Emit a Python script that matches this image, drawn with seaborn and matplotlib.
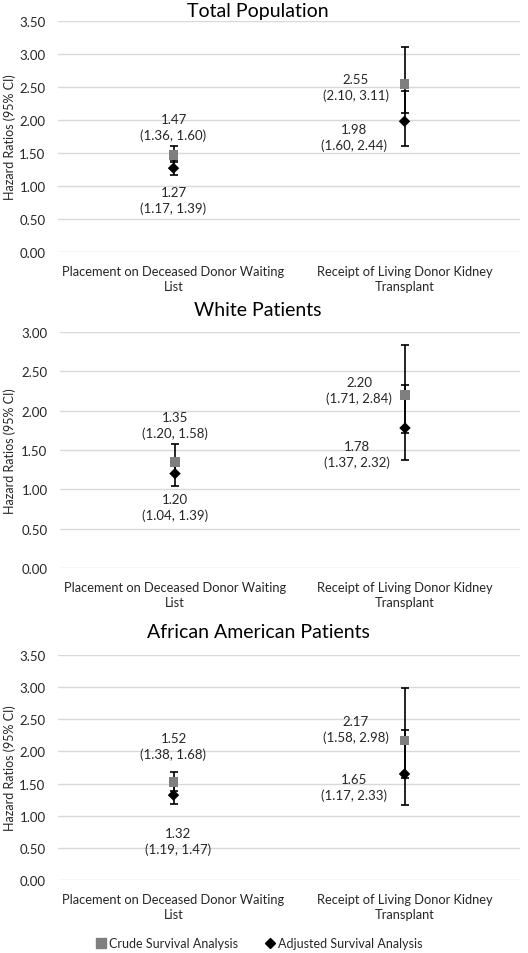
import matplotlib
matplotlib.use("Agg")
import matplotlib.pyplot as plt
from matplotlib.lines import Line2D
import seaborn as sns
import pandas as pd
import numpy as np

# ---------------- data ----------------
panels = ["Total Population", "White Patients", "African American Patients"]
categories = ["Placement on Deceased Donor Waiting\nList",
              "Receipt of Living Donor Kidney\nTransplant"]
analyses = ["Crude Survival Analysis", "Adjusted Survival Analysis"]

# hazard ratios [panel][category]
crude_hr = [[1.47, 2.55], [1.35, 2.20], [1.52, 2.17]]
crude_lo = [[1.36, 2.10], [1.20, 1.71], [1.38, 1.58]]
crude_hi = [[1.60, 3.11], [1.58, 2.84], [1.68, 2.98]]
adj_hr = [[1.27, 1.98], [1.20, 1.78], [1.32, 1.65]]
adj_lo = [[1.17, 1.60], [1.04, 1.37], [1.19, 1.17]]
adj_hi = [[1.39, 2.44], [1.39, 2.32], [1.47, 2.33]]
y_max = [3.5, 3.0, 3.5]

rows = []
for p, pname in enumerate(panels):
    for c, cname in enumerate(categories):
        rows.append(dict(panel=pname, category=cname, analysis=analyses[0],
                         hr=crude_hr[p][c], lo=crude_lo[p][c], hi=crude_hi[p][c]))
        rows.append(dict(panel=pname, category=cname, analysis=analyses[1],
                         hr=adj_hr[p][c], lo=adj_lo[p][c], hi=adj_hi[p][c]))
df = pd.DataFrame(rows)
df["xpos"] = df["category"].map({c: i for i, c in enumerate(categories)})

# ---------------- style ----------------
sns.set_theme(style="white")
FONT = ["Lato", "DejaVu Sans"]
plt.rcParams["font.family"] = FONT
TXT = "#262626"
GREY = "#7f7f7f"
palette = {analyses[0]: GREY, analyses[1]: "black"}
markers = {analyses[0]: "s", analyses[1]: "D"}
sizes = {analyses[0]: 50, analyses[1]: 34}

W, H = 528, 954
fig = plt.figure(figsize=(W / 100, H / 100), dpi=100)

# axes boxes in pixel coords: (left, top, right, bottom)
boxes = [(58, 22, 520, 253), (60, 333, 520, 569), (58, 656, 520, 881)]
title_y = [12, 311, 632]
# label positions (data coords) per panel: [(x, y) crude c0, adj c0, crude c1, adj c1]
label_pos = [
    [(0.0, 1.89), (0.0, 0.79), (0.79, 2.50), (0.78, 1.74)],
    [(0.0, 1.82), (0.0, 0.78), (0.80, 2.26), (0.79, 1.45)],
    [(0.0, 2.08), (0.02, 0.61), (0.79, 2.35), (0.78, 1.45)],
]

for p, pname in enumerate(panels):
    l, t, r, b = boxes[p]
    ax = fig.add_axes([l / W, 1 - b / H, (r - l) / W, (b - t) / H])
    sub = df[df["panel"] == pname]

    # error bars (both black)
    for _, row in sub.iterrows():
        ax.errorbar(row["xpos"], row["hr"],
                    yerr=[[row["hr"] - row["lo"]], [row["hi"] - row["hr"]]],
                    fmt="none", ecolor="black", elinewidth=1.2,
                    capsize=2.6, capthick=1.2, zorder=2)

    sns.scatterplot(data=sub, x="xpos", y="hr", hue="analysis", style="analysis",
                    size="analysis", sizes=sizes, palette=palette, markers=markers,
                    hue_order=analyses, style_order=analyses, size_order=analyses,
                    edgecolor="none", linewidth=0, legend=False, ax=ax, zorder=3)

    # value labels
    items = [(0, crude_hr, crude_lo, crude_hi), (0, adj_hr, adj_lo, adj_hi),
             (1, crude_hr, crude_lo, crude_hi), (1, adj_hr, adj_lo, adj_hi)]
    for k, (c, hr, lo, hi) in enumerate(items):
        x, y = label_pos[p][k]
        ax.text(x, y, f"{hr[p][c]:.2f}\n({lo[p][c]:.2f}, {hi[p][c]:.2f})",
                ha="center", va="center", fontsize=9.5, color=TXT,
                linespacing=1.35, zorder=4)

    ax.set_xlim(-0.5, 1.5)
    ax.set_ylim(0, y_max[p])
    ticks = np.arange(0, y_max[p] + 0.01, 0.5)
    ax.set_yticks(ticks)
    ax.set_yticklabels([f"{v:.2f}" for v in ticks], fontsize=9.5, color=TXT)
    ax.set_xticks(range(len(categories)))
    ax.set_xticklabels(categories, fontsize=9.3, color=TXT, linespacing=1.35)
    ax.tick_params(axis="y", length=0, pad=9)
    ax.tick_params(axis="x", length=0, pad=9)
    ax.grid(axis="y", color="#d9d9d9", linewidth=1.0)
    ax.grid(axis="x", visible=False)
    ax.set_axisbelow(True)
    for s in ax.spines.values():
        s.set_visible(False)
    ax.set_xlabel("")
    ax.set_ylabel("Hazard Ratios (95% CI)", fontsize=9, color=TXT)
    ax.yaxis.set_label_coords(-(l - 16) / (r - l), 0.5)

    fig.text(258 / W, 1 - title_y[p] / H, pname, ha="center", va="center",
             fontsize=14, color="black")

handles = [Line2D([], [], linestyle="none", marker="s", color=GREY, markersize=7),
           Line2D([], [], linestyle="none", marker="D", color="black", markersize=5)]
fig.legend(handles, analyses, loc="center", bbox_to_anchor=(0.49, 1 - 944 / H),
           ncol=2, frameon=False, fontsize=9, handletextpad=0.2,
           columnspacing=2.0, handlelength=1.0, labelcolor=TXT)

fig.savefig("out.png", dpi=100)
